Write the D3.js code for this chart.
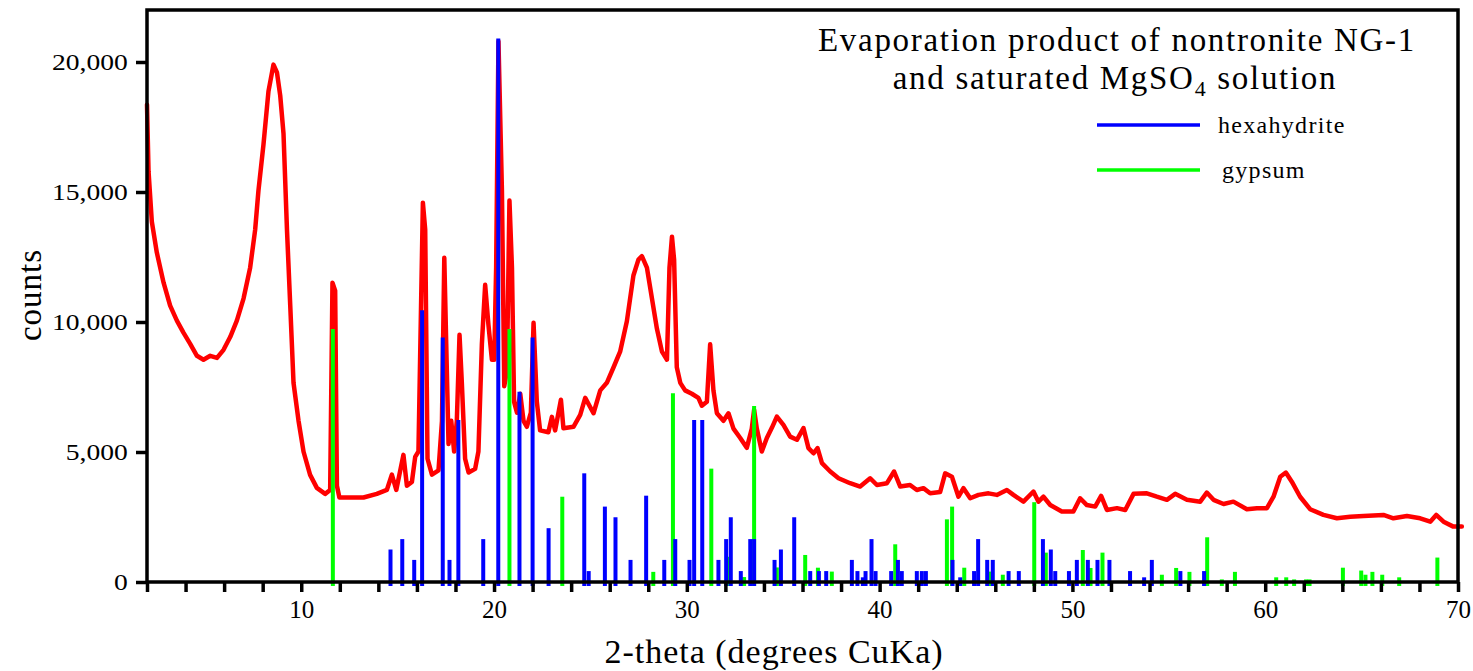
<!DOCTYPE html>
<html>
<head>
<meta charset="utf-8">
<script src="https://cdn.jsdelivr.net/npm/d3@7"></script>
<style>
  body { margin: 0; background: #fff; }
  svg text { font-family: "Liberation Serif", "Times New Roman", serif; fill: #000; }
</style>
</head>
<body>
<svg id="chart" width="1473" height="671"></svg>
<script>
// measured XRD pattern (red), 2-theta in degrees and counts
var twoTheta = [2.00, 2.08, 2.25, 2.51, 2.86, 3.20, 3.55, 3.89, 4.24, 4.59, 4.93, 5.28, 5.63, 5.97, 6.32, 6.66, 7.01, 7.35, 7.61, 7.78,
    8.04, 8.30, 8.56, 8.74, 8.91, 9.08, 9.26, 9.43, 9.60, 9.86, 10.12, 10.46, 10.81, 11.24, 11.50, 11.62, 11.76, 11.85, 11.98, 12.54,
    13.23, 13.92, 14.44, 14.70, 14.93, 15.30, 15.48, 15.74, 15.91, 16.08, 16.31, 16.43, 16.55, 16.78, 17.12, 17.30, 17.42, 17.52, 17.64, 17.78,
    17.93, 18.07, 18.21, 18.33, 18.50, 18.68, 19.02, 19.19, 19.37, 19.54, 19.71, 19.89, 20.01, 20.11, 20.23, 20.41, 20.53, 20.67, 20.80, 20.93,
    21.04, 21.19, 21.36, 21.53, 21.70, 21.91, 22.05, 22.22, 22.39, 22.82, 23.00, 23.17, 23.47, 23.60, 24.12, 24.47, 24.73, 25.16, 25.51, 25.85,
    26.20, 26.54, 26.89, 27.23, 27.49, 27.67, 27.93, 28.19, 28.45, 28.71, 28.97, 29.10, 29.23, 29.34, 29.48, 29.66, 29.91, 30.26, 30.60, 30.78,
    31.04, 31.21, 31.38, 31.56, 31.90, 32.16, 32.42, 32.77, 33.11, 33.37, 33.49, 33.63, 33.89, 34.15, 34.41, 34.67, 35.01, 35.36, 35.71, 36.05,
    36.31, 36.57, 36.78, 37.01, 37.44, 37.87, 38.47, 38.99, 39.51, 39.86, 40.38, 40.75, 41.07, 41.58, 41.93, 42.27, 42.62, 43.14, 43.40, 43.75,
    44.09, 44.35, 44.70, 45.13, 45.65, 46.08, 46.60, 46.94, 47.46, 47.98, 48.24, 48.50, 48.85, 49.45, 50.05, 50.40, 50.75, 51.18, 51.49, 51.79,
    52.31, 52.74, 53.17, 53.86, 54.38, 54.90, 55.33, 55.94, 56.63, 56.97, 57.32, 57.84, 58.35, 59.05, 59.57, 60.09, 60.43, 60.78, 61.07, 61.38,
    61.81, 62.33, 63.02, 63.72, 64.41, 65.10, 66.13, 66.65, 67.35, 68.04, 68.56, 68.87, 69.25, 69.76, 70.20];
var counts = [18360, 15790, 13860, 12670, 11510, 10630, 10050, 9590, 9160, 8700, 8550, 8700, 8620, 8930, 9430, 10050, 10910, 12090, 13550, 15050,
    16820, 18870, 19900, 19600, 18710, 17250, 13550, 10630, 7660, 6200, 5010, 4120, 3620, 3390, 3540, 11510, 11200, 3700, 3250, 3250,
    3250, 3390, 3540, 4130, 3540, 4890, 3700, 3850, 4810, 5020, 14590, 13550, 4740, 4130, 4290, 6200, 12470, 9160, 5310, 6200,
    5020, 6200, 9510, 7660, 4740, 4210, 4350, 5020, 9160, 11430, 9890, 8550, 8550, 12090, 20800, 15050, 7530, 8120, 14670, 12090,
    6930, 6510, 7240, 6200, 5970, 6510, 9970, 6930, 5830, 5760, 6350, 5830, 7010, 5910, 5970, 6430, 7080, 6490, 7370, 7660,
    8260, 8860, 10030, 11790, 12400, 12530, 12090, 10910, 9740, 8860, 8550, 12090, 13280, 12400, 8260, 7660, 7370, 7240, 7080, 6780,
    6930, 9140, 7370, 6490, 6200, 6490, 5900, 5540, 5160, 5900, 6620, 5900, 5020, 5540, 5930, 6360, 6040, 5590, 5470, 5920,
    5150, 4950, 5150, 4570, 4250, 3990, 3800, 3670, 3990, 3730, 3800, 4250, 3670, 3730, 3540, 3610, 3410, 3460, 4180, 4050,
    3280, 3610, 3220, 3350, 3410, 3350, 3540, 3350, 3090, 3480, 3090, 3280, 2960, 2710, 2710, 3220, 2960, 2900, 3310, 2770,
    2840, 2770, 3390, 3410, 3280, 3160, 3390, 3160, 3090, 3440, 3160, 3000, 3090, 2800, 2840, 2840, 3280, 4050, 4210, 3860,
    3280, 2800, 2580, 2450, 2510, 2540, 2580, 2450, 2540, 2450, 2320, 2580, 2320, 2130, 2130];

// reference stick pattern: hexahydrite (blue)
var hexaPos = [14.63, 15.24, 15.86, 16.27, 17.34, 17.69, 18.15, 19.44, 20.22, 21.32, 22.00, 22.83, 24.68, 24.91, 25.75, 26.30, 27.08, 27.89,
    28.83, 29.40, 30.14, 30.38, 30.80, 31.64, 32.04, 32.28, 32.80, 33.29, 33.49, 34.55, 34.88, 35.57, 36.40, 36.85, 37.23, 38.56,
    38.85, 39.13, 39.27, 39.58, 39.79, 40.60, 40.95, 41.15, 41.93, 42.19, 42.40, 43.78, 44.18, 44.90, 45.11, 45.58, 45.87, 46.69,
    47.22, 48.47, 48.88, 49.11, 49.82, 50.23, 50.80, 51.30, 51.92, 52.99, 53.72, 54.12, 55.60, 56.83];
var hexaInt = [1250, 1650, 850, 10450, 9400, 850, 6230, 1650, 20900, 7320, 9400, 2070, 4180, 420, 2900, 2490, 850, 3320,
    850, 1650, 850, 6230, 6230, 850, 1650, 2490, 420, 1650, 1650, 850, 1250, 2490, 420, 420, 420, 850,
    420, 180, 420, 1650, 420, 420, 850, 420, 420, 420, 420, 850, 180, 420, 1650, 850, 850, 420,
    420, 1650, 1250, 420, 420, 850, 850, 850, 850, 420, 180, 850, 420, 420];

// reference stick pattern: gypsum (green)
var gypPos = [11.64, 20.80, 23.54, 28.26, 29.28, 31.27, 32.18, 32.97, 33.49, 34.67, 36.14, 36.80, 37.52, 40.81, 43.49, 43.76, 44.39,
    45.73, 46.39, 48.02, 48.62, 50.54, 50.94, 51.56, 54.64, 55.38, 56.07, 56.99, 57.75, 58.43, 60.57, 61.09, 61.50, 62.12,
    62.30, 64.03, 64.98, 65.20, 65.56, 66.07, 66.95, 68.93];
var gypInt = [9730, 9730, 3280, 390, 7260, 4360, 970, 190, 6770, 560, 1040, 550, 400, 1450, 2410, 2900, 550,
    400, 280, 3070, 1130, 1230, 540, 1130, 280, 540, 390, 1720, 100, 390, 180, 180, 100, 100,
    100, 550, 440, 280, 390, 280, 180, 940];

var xLabelTicks = [10, 20, 30, 40, 50, 60, 70];
var yTicks = [0, 5000, 10000, 15000, 20000];

var svg = d3.select('#chart');
var margin = {top: 10, right: 15, bottom: 89, left: 147},
    width = 1473 - margin.left - margin.right,
    height = 671 - margin.top - margin.bottom;

var xScale = d3.scaleLinear().domain([2, 70]).range([margin.left, margin.left + width]);
var yScale = d3.scaleLinear().domain([0, 22000]).range([margin.top + height, margin.top]);

// red pattern
var pattern = twoTheta.map(function(d, i) { return [d, counts[i]]; });
var line = d3.line()
    .x(function(d) { return xScale(d[0]); })
    .y(function(d) { return yScale(d[1]); });

svg.append('path')
    .datum(pattern)
    .attr('d', line)
    .attr('fill', 'none')
    .attr('stroke', '#ff0000')
    .attr('stroke-width', 4.5)
    .attr('stroke-linejoin', 'round')
    .attr('stroke-linecap', 'round');

function drawSticks(pos, val, color) {
    svg.append('g').selectAll('line')
        .data(pos)
        .enter().append('line')
        .attr('x1', function(d) { return xScale(d); })
        .attr('x2', function(d) { return xScale(d); })
        .attr('y1', yScale(0) + 4)
        .attr('y2', function(d, i) { return yScale(val[i]); })
        .attr('stroke', color)
        .attr('stroke-width', 4);
}
drawSticks(gypPos, gypInt, '#00ff00');
drawSticks(hexaPos, hexaInt, '#0000ff');

// frame
svg.append('rect')
    .attr('x', margin.left)
    .attr('y', margin.top)
    .attr('width', width)
    .attr('height', height)
    .attr('fill', 'none')
    .attr('stroke', '#000')
    .attr('stroke-width', 3.5);

// x axis
var xAxis = d3.axisBottom(xScale)
    .tickValues(d3.range(2, 71, 2))
    .tickSize(10)
    .tickPadding(8)
    .tickFormat(function(d) { return xLabelTicks.indexOf(d) >= 0 ? d : ''; });

var xAxisGroup = svg.append('g')
    .attr('transform', 'translate(0,' + (margin.top + height) + ')')
    .call(xAxis);
xAxisGroup.select('.domain').remove();
xAxisGroup.selectAll('line').attr('stroke-width', 3.5);
xAxisGroup.selectAll('text')
    .style('font-size', '25px')
    .attr('font-family', null);

// y axis
var yAxis = d3.axisLeft(yScale)
    .tickValues(yTicks)
    .tickSize(11)
    .tickFormat(d3.format(','));

var yAxisGroup = svg.append('g')
    .attr('transform', 'translate(' + margin.left + ',0)')
    .call(yAxis);
yAxisGroup.select('.domain').remove();
yAxisGroup.selectAll('line').attr('stroke-width', 3.5);
yAxisGroup.selectAll('text')
    .attr('x', -16)
    .attr('transform', 'scale(1.2,1)')
    .style('font-size', '23px')
    .attr('font-family', null);

// axis titles
svg.append('text')
    .attr('x', 774)
    .attr('y', 663)
    .attr('text-anchor', 'middle')
    .style('font-size', '34px')
    .style('letter-spacing', '1px')
    .text('2-theta (degrees CuKa)');

svg.append('text')
    .attr('transform', 'translate(41,295) rotate(-90)')
    .attr('text-anchor', 'middle')
    .style('font-size', '33px')
    .style('letter-spacing', '1px')
    .text('counts');

// title
svg.append('text')
    .attr('x', 1117)
    .attr('y', 51)
    .attr('text-anchor', 'middle')
    .style('font-size', '33px')
    .style('letter-spacing', '1.7px')
    .text('Evaporation product of nontronite NG-1');

var t2 = svg.append('text')
    .attr('x', 1115)
    .attr('y', 89)
    .attr('text-anchor', 'middle')
    .style('font-size', '33px')
    .style('letter-spacing', '1.7px');
t2.append('tspan').text('and saturated MgSO');
t2.append('tspan').attr('dy', 7).style('font-size', '22px').text('4');
t2.append('tspan').attr('dy', -7).text(' solution');

// legend
var legendNames = ['hexahydrite', 'gypsum'];
var legendColors = ['#0000ff', '#00ff00'];
var legend = svg.append('g').selectAll('g')
    .data(legendNames)
    .enter().append('g')
    .attr('transform', function(d, i) { return 'translate(1097,' + (125 + i * 45) + ')'; });

legend.append('line')
    .attr('x1', 0).attr('x2', 103)
    .attr('y1', 0).attr('y2', 0)
    .attr('stroke', function(d, i) { return legendColors[i]; })
    .attr('stroke-width', 3.5);

legend.append('text')
    .attr('x', function(d, i) { return i == 0 ? 121 : 125; })
    .attr('y', 8)
    .style('font-size', '24px')
    .style('letter-spacing', '1.3px')
    .text(function(d) { return d; });
</script>
</body>
</html>
